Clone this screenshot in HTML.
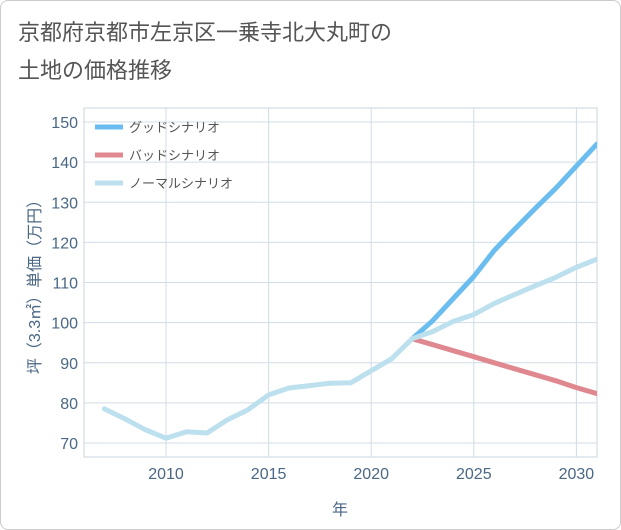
<!DOCTYPE html>
<html><head><meta charset="utf-8"><style>
body{margin:0;background:#fff;font-family:"Liberation Sans","Noto Sans CJK JP",sans-serif;}
#wrap{position:relative;width:619px;height:528px;border:1px solid #ccc;border-radius:8px;background:#fff;}
</style></head><body>
<div id="wrap">
<svg id="chart" width="621" height="530" style="position:absolute;left:-1px;top:-1px"></svg>
</div>
<script>
const years=[2007,2008,2009,2010,2011,2012,2013,2014,2015,2016,2017,2018,2019,2020,2021,2022,2023,2024,2025,2026,2027,2028,2029,2030,2031];
const normal=[78.5,76,73.3,71.2,72.8,72.5,75.8,78.3,82,83.7,84.3,84.9,85,88,91,96,97.8,100.3,102,104.8,107,109.2,111.3,113.8,115.8];
const forecastYears=[2022,2023,2024,2025,2026,2027,2028,2029,2030,2031];
const good=[96,100.5,106,111.5,118,123.3,128.5,133.5,139,144.5];
const bad=[96,94.5,93,91.5,90,88.5,87,85.5,83.8,82.3];
const xTicks=[2010,2015,2020,2025,2030];
const yTicks=[70,80,90,100,110,120,130,140,150];
const NS='http://www.w3.org/2000/svg';
const svg=document.getElementById('chart');
const L=84,R=597,T=108,B=457;
const x=v=>166+(v-2010)*20.52;
const y=v=>443-(v-70)*4.0125;
function mk(t,a,p){const e=document.createElementNS(NS,t);for(const k in a)e.setAttribute(k,a[k]);(p||svg).appendChild(e);return e;}
function txt(s,a,name){const e=mk('text',a);e.textContent=s;return e;}
txt('京都府京都市左京区一乗寺北大丸町の',{x:18,y:40,'font-size':22,fill:'#555'},'chart-title-line1');
txt('土地の価格推移',{x:18,y:78,'font-size':22,fill:'#555'},'chart-title-line2');
const bg=mk('rect',{x:L,y:T,width:R-L,height:B-T,fill:'#fff',stroke:'#c8d4dc'});

xTicks.forEach(v=>{const l=mk('line',{x1:x(v),x2:x(v),y1:T,y2:B,stroke:'#d0dde6'});
txt(String(v),{x:x(v),y:479,'font-size':16,fill:'#4a6784','text-anchor':'middle'},'x-tick-label');});
yTicks.forEach(v=>{const l=mk('line',{x1:L,x2:R,y1:y(v),y2:y(v),stroke:'#d0dde6'});
txt(String(v),{x:78,y:y(v)+6,'font-size':16,fill:'#4a6784','text-anchor':'end'},'y-tick-label');});
txt('年',{x:340,y:515,'font-size':16,fill:'#4a6784','text-anchor':'middle'},'x-axis-title');
txt('坪（3.3㎡）単価（万円）',{x:0,y:0,'font-size':16,fill:'#4a6784','text-anchor':'middle',transform:'translate(40,283) rotate(-90)'},'y-axis-title');
const cp=mk('clipPath',{id:'cp'});mk('rect',{x:L,y:T,width:R-L,height:B-T},cp);
function line(xs,ys,col,name){const d=xs.map((v,i)=>(i?'L':'M')+x(v).toFixed(1)+','+y(ys[i]).toFixed(1)).join('');
const p=mk('path',{d,fill:'none',stroke:col,'stroke-width':5,'stroke-linejoin':'round','stroke-linecap':'round','clip-path':'url(#cp)'});
}
line(forecastYears,bad,'#e08890','bad-scenario-line');
line(forecastYears,good,'#6bbdf0','good-scenario-line');
line(years,normal,'#bde0ee','normal-scenario-line');
[['グッドシナリオ','#6bbdf0'],['バッドシナリオ','#e08890'],['ノーマルシナリオ','#bde0ee']].forEach((e,i)=>{
const yy=127+i*28;const l=mk('line',{x1:95,x2:123,y1:yy,y2:yy,stroke:e[1],'stroke-width':5});

txt(e[0],{x:129,y:yy+5,'font-size':13,fill:'#555'},'legend-entry');});
</script>
</body></html>
